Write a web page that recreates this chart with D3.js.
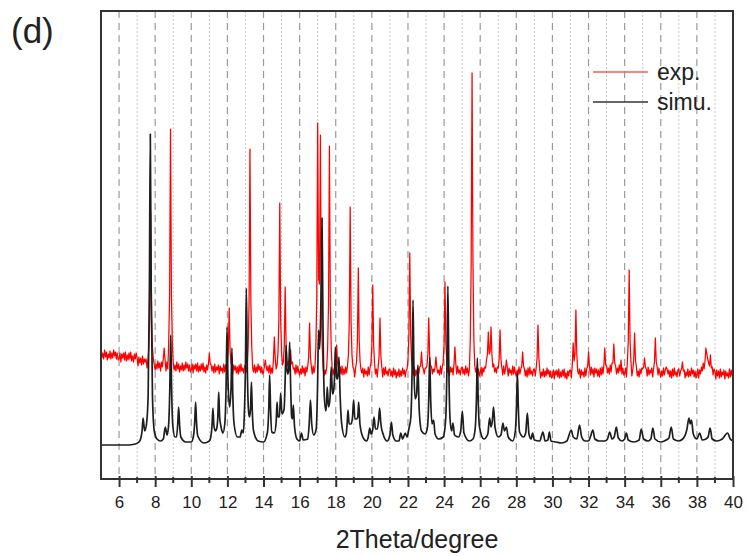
<!DOCTYPE html>
<html><head><meta charset="utf-8">
<script src="https://cdn.jsdelivr.net/npm/d3@7"></script>
<style>body{margin:0;background:#fff}svg{display:block}text{font-family:"Liberation Sans",Arial,sans-serif;fill:#222}</style>
</head><body>
<svg id="c" width="749" height="556"></svg>
<script>
// ---- data ----
const panelLabel = "(d)";
const xLabel = "2Theta/degree";
const seriesNames = ["exp.", "simu."];
const majorTicks = [6,8,10,12,14,16,18,20,22,24,26,28,30,32,34,36,38,40];
const minorTicks = [7,9,11,13,15,17,19,21,23,25,27,29,31,33,35,37,39];
// experimental pattern, intensity (a.u.) every 0.05 degree from 5.00 to 40.00 (one row per degree)
const expStart = 5.0, expStep = 0.05;
const expValues = [
128,121,126,120,129,122,127,119,125,121,128,120,126,121,129,123,127,120,126,119,
120,126,117,125,121,126,119,127,118,124,119,126,120,127,118,123,117,125,120,126,
121,113,122,116,121,114,123,115,120,117,120,111,119,131,161,266,161,131,120,114,
109,115,110,118,111,116,108,117,112,120,131,119,108,117,110,137,184,350,184,137,
116,109,114,108,117,110,115,107,113,109,116,108,114,109,117,111,115,108,114,107,
109,115,106,114,110,115,108,116,107,113,108,115,109,116,107,112,106,114,109,115,
126,115,114,108,113,106,115,107,112,109,114,105,113,108,111,106,115,107,114,108,
116,128,171,128,116,113,105,114,109,113,106,112,105,114,107,115,108,111,106,113,
114,107,112,132,176,330,176,132,111,107,114,106,112,107,115,109,113,106,112,105,
107,113,119,112,108,113,106,114,105,111,106,120,142,120,110,114,126,159,276,159,
126,114,117,134,192,134,117,113,119,115,129,115,117,110,111,105,114,106,113,107,
104,110,105,113,106,111,103,112,107,113,122,156,122,112,105,113,106,112,133,182,
356,200,195,344,179,132,111,103,109,105,112,130,175,333,175,130,111,104,110,103,
116,134,116,111,104,112,105,113,104,110,105,112,106,113,124,157,272,157,124,112,
110,102,111,117,138,211,138,117,109,106,111,102,110,105,108,103,112,104,111,116,
133,194,133,116,105,110,102,112,123,161,123,112,102,111,104,112,105,108,103,110,
110,103,108,102,111,104,109,101,107,103,110,102,108,103,111,105,109,102,108,110,
119,143,226,143,119,111,104,112,103,109,104,111,105,112,113,127,113,110,105,111,
111,113,124,161,124,113,113,105,110,107,112,122,111,106,109,104,113,105,112,117,
135,197,135,117,107,111,103,112,107,111,104,115,132,115,105,113,106,109,104,111,
112,105,110,104,113,106,111,103,109,138,215,406,215,138,113,107,111,104,110,103,
106,112,103,111,107,112,111,119,125,147,125,128,152,124,112,115,107,111,106,112,
111,120,149,120,111,104,113,105,110,119,112,103,111,106,109,104,113,105,112,106,
103,109,104,112,105,110,113,127,113,110,103,109,102,111,104,112,105,108,103,110,
110,103,111,121,154,121,109,101,107,103,110,102,108,103,111,105,109,102,108,101,
103,109,100,108,104,109,102,110,101,107,102,109,103,110,101,106,100,108,103,109,
109,101,115,136,118,125,169,125,108,105,110,101,109,104,107,102,111,103,110,113,
127,113,104,112,105,110,102,111,106,110,103,109,102,111,104,112,105,114,131,114,
113,106,111,105,114,107,116,116,135,116,113,105,111,106,114,108,119,105,111,104,
105,111,102,117,138,209,138,117,103,109,119,146,119,112,103,108,102,110,105,111,
110,112,121,112,110,103,112,104,109,106,111,102,110,117,141,117,112,104,111,105,
102,108,103,111,104,109,112,110,105,109,102,108,101,110,103,111,104,107,102,109,
110,103,108,110,117,108,109,101,107,103,110,102,108,103,111,105,109,102,108,101,
104,110,101,109,105,112,108,116,110,118,131,125,120,116,113,124,111,112,104,110,
108,100,109,103,108,101,110,102,107,104,109,100,108,103,106,101,110,102,109,103,
105];
// simulated pattern: [2theta, intensity (a.u.)]
const simPoints = [
[5.0,34],[6.5,34],[6.9,35],[7.1,37],[7.21,41],[7.28,49],[7.33,61],[7.42,48],[7.52,55],[7.61,83],[7.68,191],[7.73,345],[7.78,191],[7.85,83],[7.95,48],[8.1,40],[8.3,38],
[8.45,40],[8.56,52],[8.66,44],[8.74,53],[8.81,90],[8.86,144],[8.91,90],[8.98,53],[9.1,42],
[9.18,42],[9.25,55],[9.3,72],[9.35,55],[9.42,42],[9.7,37],
[10.0,37],[10.12,43],[10.19,57],[10.24,77],[10.29,57],[10.36,43],[10.7,36],
[11.0,38],[11.08,42],[11.15,54],[11.2,71],[11.25,54],[11.33,48],
[11.4,50],[11.47,62],[11.52,87],[11.57,62],[11.65,52],[11.75,46],
[11.86,56],[11.93,95],[11.98,152],[12.03,100],[12.12,72],
[12.2,90],[12.25,131],[12.3,84],[12.37,55],[12.55,42],
[12.7,42],[12.8,49],[12.88,46],
[12.93,60],[13.0,114],[13.05,191],[13.1,114],[13.17,68],
[13.22,62],[13.28,70],[13.33,97],[13.38,67],[13.45,48],[13.7,38],[14.0,37],
[14.22,47],[14.29,70],[14.34,104],[14.39,70],[14.46,47],[14.6,46],
[14.7,57],[14.75,77],[14.8,62],
[14.88,62],[14.95,86],[15.02,65],
[15.14,70],[15.2,100],[15.25,134],[15.3,110],
[15.35,105],[15.4,110],[15.45,137],[15.5,95],[15.56,62],
[15.6,60],[15.65,74],[15.72,52],[15.85,40],
[16.0,38],[16.1,46],[16.2,39],
[16.45,40],[16.53,55],[16.6,79],[16.67,55],[16.78,44],
[16.92,50],[16.99,90],[17.05,149],[17.1,130],
[17.15,150],[17.2,200],[17.24,261],[17.29,160],[17.36,85],[17.45,68],
[17.49,75],[17.53,92],[17.6,72],
[17.68,80],[17.75,112],[17.82,85],
[17.88,88],[17.93,100],[17.98,132],[18.05,100],[18.09,100],
[18.13,105],[18.18,122],[18.24,85],[18.33,55],[18.5,42],
[18.58,45],[18.63,55],[18.68,69],[18.74,55],[18.85,55],
[18.93,62],[18.99,79],[19.06,60],[19.15,60],
[19.22,62],[19.27,77],[19.34,55],[19.5,42],[19.7,38],
[19.8,42],[19.88,51],[19.96,45],
[20.05,50],[20.12,62],[20.2,50],[20.3,50],
[20.37,58],[20.43,71],[20.5,55],[20.62,45],[20.85,38],
[21.0,44],[21.08,57],[21.16,44],[21.35,38],
[21.5,38],[21.6,46],[21.7,40],
[21.85,46],[21.95,42],[22.05,50],
[22.16,62],[22.23,110],[22.28,179],[22.33,110],[22.4,80],
[22.48,85],[22.55,114],[22.62,70],[22.75,48],[22.95,45],
[23.08,52],[23.15,80],[23.2,122],[23.26,78],[23.33,55],
[23.42,59],[23.5,45],[23.7,40],[23.95,42],
[24.09,60],[24.16,115],[24.21,193],[24.26,115],[24.33,60],[24.42,48],
[24.49,56],[24.58,44],[24.8,42],
[24.92,48],[25.01,68],[25.1,46],[25.4,38],[25.6,40],
[25.72,50],[25.79,79],[25.84,121],[25.89,79],[25.96,52],[26.2,40],
[26.42,45],[26.52,61],[26.6,52],
[26.67,58],[26.74,72],[26.82,52],[27.0,42],
[27.15,44],[27.26,56],[27.34,48],
[27.45,52],[27.55,42],[27.8,38],
[27.94,47],[28.01,72],[28.06,106],[28.11,72],[28.18,47],[28.4,42],
[28.52,46],[28.61,66],[28.7,45],
[28.82,40],[28.9,46],[29.0,39],
[29.3,38],[29.47,47],[29.6,38],
[29.75,39],[29.83,47],[29.92,38],
[30.2,37],[30.5,36],[30.8,38],
[31.04,49],[31.15,42],
[31.35,40],[31.5,54],[31.62,42],[31.8,38],
[32.0,38],[32.1,42],[32.24,49],[32.35,40],[32.6,38],
[32.9,38],[33.05,40],[33.17,47],[33.3,40],
[33.42,42],[33.54,52],[33.65,41],[33.85,38],
[34.0,40],[34.09,46],[34.2,39],[34.5,37],
[34.8,39],[34.92,50],[35.05,40],[35.3,38],
[35.45,40],[35.56,51],[35.68,40],[36.0,37],[36.3,39],
[36.45,41],[36.58,52],[36.7,40],[37.0,38],[37.3,42],
[37.45,50],[37.56,61],[37.63,55],
[37.7,59],[37.8,45],[38.0,40],
[38.15,46],[38.3,39],[38.5,40],
[38.62,42],[38.73,51],[38.85,40],[39.1,38],[39.4,40],
[39.7,46],[39.85,40],[40,38]
];

// ---- chart ----
const svg = d3.select("#c");
const L = 101, R = 733, T = 11, B = 479;
const x = d3.scaleLinear().domain([5, 40]).range([L, R]);
const y = d3.scaleLinear().domain([0, 468]).range([B, T]);

// grid
svg.append("g").selectAll("line").data(minorTicks).join("line")
  .attr("x1", d => x(d)).attr("x2", d => x(d)).attr("y1", T).attr("y2", B)
  .attr("stroke", "#c8c8c8").attr("stroke-width", 1).attr("stroke-dasharray", "2,2");
svg.append("g").selectAll("line").data(majorTicks.filter(d => d < 40)).join("line")
  .attr("x1", d => x(d)).attr("x2", d => x(d)).attr("y1", T).attr("y2", B)
  .attr("stroke", "#9a9a9a").attr("stroke-width", 1.2).attr("stroke-dasharray", "7,5");

const expData = expValues.map((v, i) => [expStart + i * expStep, v]);
const line = d3.line().x(d => x(d[0])).y(d => y(d[1]));
svg.append("path").datum(expData).attr("d", line)
  .attr("fill", "none").attr("stroke", "#ff0000").attr("stroke-width", 1.25).attr("stroke-linejoin", "round");
svg.append("path").datum(simPoints).attr("d", line.curve(d3.curveMonotoneX))
  .attr("fill", "none").attr("stroke", "#1e1e1e").attr("stroke-width", 1.7).attr("stroke-linejoin", "round");

// frame
svg.append("rect").attr("x", L).attr("y", T).attr("width", R - L).attr("height", B - T)
  .attr("fill", "none").attr("stroke", "#333").attr("stroke-width", 2);

// x axis ticks
const ax = svg.append("g").attr("transform", `translate(0,${B})`)
  .call(d3.axisBottom(x).tickValues(majorTicks).tickSize(8).tickPadding(9).tickFormat(d3.format("d")));
ax.select(".domain").remove();
ax.selectAll(".tick line").attr("y1", -3).attr("stroke", "#333").attr("stroke-width", 2);
ax.selectAll(".tick text").attr("font-size", 17).attr("fill", "#222")
  .attr("font-family", "Liberation Sans, Arial, sans-serif");
svg.append("g").selectAll("line").data(minorTicks).join("line")
  .attr("x1", d => x(d)).attr("x2", d => x(d)).attr("y1", B - 2).attr("y2", B + 4)
  .attr("stroke", "#333").attr("stroke-width", 2);

// labels
svg.append("text").attr("x", (L + R) / 2).attr("y", 548).attr("text-anchor", "middle")
  .attr("font-size", 25).text(xLabel);
svg.append("text").attr("x", 11).attr("y", 43).attr("font-size", 35).text(panelLabel);

// legend
const leg = [{n: seriesNames[0], c: "#ff5a5a", y: 72}, {n: seriesNames[1], c: "#333", y: 102}];
leg.forEach(d => {
  svg.append("line").attr("x1", 593).attr("x2", 648).attr("y1", d.y).attr("y2", d.y)
    .attr("stroke", d.c).attr("stroke-width", 1.3);
  svg.append("text").attr("x", 657).attr("y", d.y + 8).attr("font-size", 23).text(d.n);
});
</script>
</body></html>
